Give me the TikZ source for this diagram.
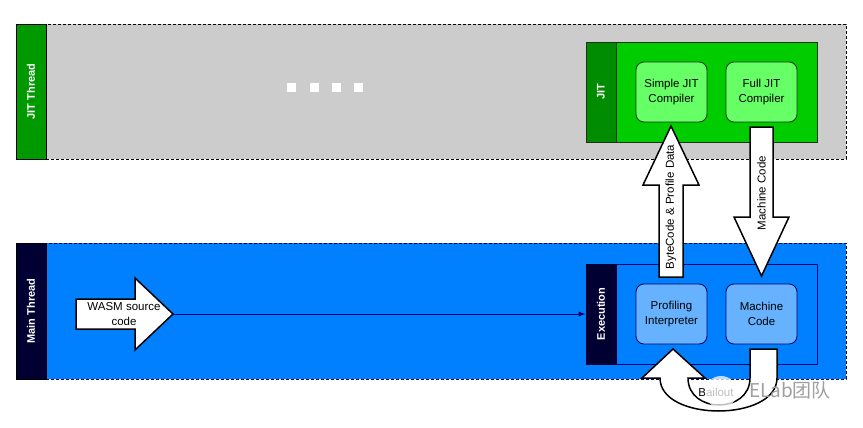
\documentclass[tikz,border=0pt]{standalone}
\usepackage{fontspec}
\setmainfont{Liberation Sans}
\newfontfamily\cjkfont{Noto Sans CJK SC}
\usetikzlibrary{arrows.meta}
\definecolor{lanegray}{HTML}{CCCCCC}
\definecolor{lanegreen}{HTML}{009900}
\definecolor{jitgreen}{HTML}{00CC00}
\definecolor{jithead}{HTML}{008C00}
\definecolor{lightgreen}{HTML}{66FF66}
\definecolor{navy}{HTML}{000033}
\definecolor{laneblue}{HTML}{007FFF}
\definecolor{lightblue}{HTML}{66B2FF}
\definecolor{boxline}{HTML}{1A331A}
\definecolor{blueline}{HTML}{000066}
\tikzset{
  box/.style={draw, line width=0.8pt, inner sep=0pt, anchor=center},
  head/.style={box, draw=black, text=white, font=\bfseries\fontsize{11}{13}\selectfont},
  comp/.style={box, rounded corners=8pt, minimum width=71pt, minimum height=60pt,
     align=center, font=\fontsize{11.5}{15}\selectfont},
  bigarrow/.style={draw=black, fill=white, line width=1.5pt, line join=miter},
  lbl/.style={font=\fontsize{11.5}{15}\selectfont, inner sep=0pt, align=center},
}
\begin{document}
\begin{tikzpicture}[x=1pt,y=-1pt]
\useasboundingbox[fill=white] (0,0) rectangle (863,428);

% JIT Thread lane
\node[box, fill=lanegray, draw=black, dashed, dash pattern=on 3pt off 2pt,
      minimum width=800pt, minimum height=135pt] (jitlane) at (446,91.5) {};
\node[head, fill=lanegreen, minimum width=30pt, minimum height=135pt] (jitthread) at (31,91.5) {};
\node[rotate=90, text=white, font=\bfseries\fontsize{11}{13}\selectfont] (jitthreadlbl) at (31,91.5) {JIT Thread};

% dots
\foreach \i/\xx in {1/291,2/314,3/336,4/358}
  \node[fill=white, minimum size=9pt, inner sep=0pt] (dot\i) at (\xx,88) {};

% JIT box
\node[box, fill=jitgreen, draw=boxline, minimum width=201pt, minimum height=100pt] (jitbody) at (716.5,92) {};
\node[box, fill=jithead, draw=boxline, minimum width=30pt, minimum height=100pt] (jithd) at (601,92) {};
\node[rotate=90, text=white, font=\bfseries\fontsize{11}{13}\selectfont] (jitlbl) at (601,92) {JIT};
\node[comp, fill=lightgreen, draw=boxline] (simple) at (671.5,92) {Simple JIT\\Compiler};
\node[comp, fill=lightgreen, draw=boxline] (full) at (761.5,92) {Full JIT\\Compiler};

% Main Thread lane
\node[box, fill=laneblue, draw=blueline, dashed, dash pattern=on 3pt off 2pt,
      minimum width=800pt, minimum height=136pt] (mainlane) at (446,311) {};
\node[head, fill=navy, minimum width=30pt, minimum height=136pt] (mainthread) at (31,311) {};
\node[rotate=90, text=white, font=\bfseries\fontsize{11}{13}\selectfont] (mainlbl) at (31,311) {Main Thread};

% Execution box
\node[box, fill=laneblue, draw=blueline, minimum width=201pt, minimum height=100pt] (execbody) at (716.5,314) {};
\node[box, fill=navy, draw=navy, minimum width=30pt, minimum height=100pt] (exechd) at (601,314) {};
\node[rotate=90, text=white, font=\bfseries\fontsize{11}{13}\selectfont] (execlbl) at (601,314) {Execution};
\node[comp, fill=lightblue, draw=blueline] (prof) at (671.5,314) {Profiling\\Interpreter};
\node[comp, fill=lightblue, draw=blueline] (mcode) at (761.5,314) {Machine\\Code};

% WASM source arrow
\draw[bigarrow] (76,299) -- (135,299) -- (135,278) -- (173,314) -- (135,350) -- (135,329) -- (76,329) -- cycle;
\coordinate (wasmtip) at (173,314);
\node[lbl] (wasm) at (124,314) {WASM source\\code};
\draw[blueline, line width=0.8pt, -{Latex[length=7pt,width=5pt]}] (wasmtip) -- (exechd.west);

% ByteCode & Profile Data arrow (up)
\draw[bigarrow] (659,277) -- (683,277) -- (683,185) -- (699,185) -- (671,126) -- (643,185) -- (659,185) -- cycle;
\node[lbl, rotate=90] (bytecode) at (671,207) {ByteCode \& Profile Data};

% Machine Code arrow (down)
\draw[bigarrow] (750,127) -- (773,127) -- (773,217) -- (789,217) -- (761.5,276) -- (734,217) -- (750,217) -- cycle;
\node[lbl, rotate=90] (mcarrow) at (761.5,193) {Machine Code};

% U-turn bailout arrow
\draw[bigarrow] (750,349) -- (777,349) -- (777,378) .. controls (777,422) and (660,422) .. (660,378)
  -- (642,378) -- (673,349) -- (705,378) -- (688,378) .. controls (688,414) and (750,414) .. (750,378) -- cycle;
\node[lbl] (bailout) at (716,392) {Bailout};

% watermark
\fill[white, opacity=0.75] (721,392) circle (16);
\node[text=gray!75, font=\cjkfont\fontsize{19}{22}\selectfont, inner sep=0pt] (wm) at (790,390) {ELab团队};
\end{tikzpicture}
\end{document}
